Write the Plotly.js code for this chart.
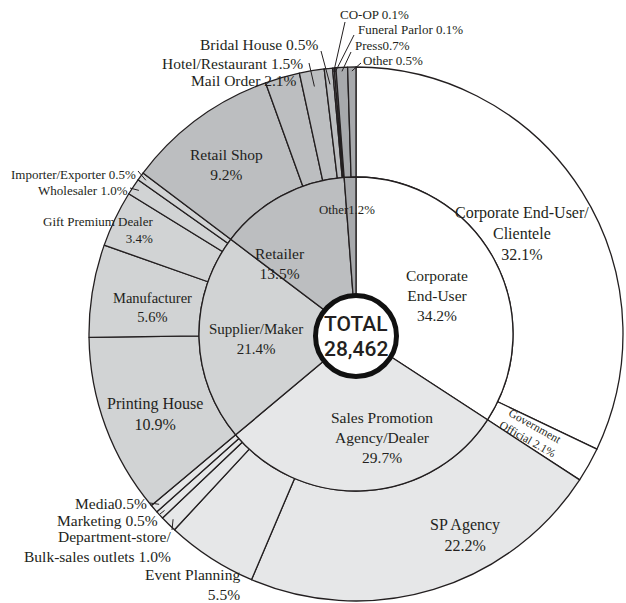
<!DOCTYPE html>
<html><head><meta charset="utf-8">
<script src="https://cdn.plot.ly/plotly-3.0.1.min.js"></script>
<style>html,body{margin:0;padding:0;background:#fff;overflow:hidden}#chart{width:626px;height:603px}</style>
</head><body><div id="chart"></div>
<script>
// ---------- data ----------
const innerLabels = ['Corporate End-User','Sales Promotion Agency/Dealer','Supplier/Maker','Retailer','Other'];
const innerValues = [34.2, 29.7, 21.4, 13.5, 1.2];
const outerLabels = ['Corporate End-User/Clientele','Government Official','SP Agency','Event Planning',
  'Department-store/Bulk-sales outlets','Marketing','Media','Printing House','Manufacturer',
  'Gift Premium Dealer','Wholesaler','Importer/Exporter','Retail Shop','Mail Order',
  'Hotel/Restaurant','Bridal House','CO-OP','Funeral Parlor','Press','Other'];
const outerValues = [32.1, 2.1, 22.2, 5.5, 1.0, 0.5, 0.5, 10.9, 5.6, 3.4, 1.0, 0.5, 9.2, 2.1, 1.5, 0.5, 0.1, 0.1, 0.7, 0.5];
const outerParents = [0, 0, 1, 1, 1, 1, 1, 2, 2, 2, 2, 2, 3, 3, 3, 3, 3, 3, 4, 4];
const totalTitle = 'TOTAL';
const totalCount = '28,462';

// ---------- style / layout ----------
const W = 626, H = 603;
const CX = 356, CY = 334, R = 267, RI = 157, RC = 40.5;
const groupColors = ['#ffffff', '#e6e7e8', '#d1d3d4', '#bcbec0', '#a7a9ac'];
const lineColor = '#231f20';
const serif = 'Liberation Serif, Times New Roman, serif';

const px = x => x / W;
const py = y => 1 - y / H;
const pct = v => v.toFixed(1) + '%';

function midFrac(values, i) {
  const tot = values.reduce((a, b) => a + b, 0);
  let c = 0; for (let k = 0; k < i; k++) c += values[k];
  return (c + values[i] / 2) / tot;
}
function pointAt(f, r) {
  const t = 2 * Math.PI * f;
  return [CX + r * Math.sin(t), CY - r * Math.cos(t)];
}

const outerTrace = {
  type: 'pie', values: outerValues, labels: outerLabels, sort: false, direction: 'clockwise', rotation: 0,
  hole: RI / R, textinfo: 'none', hoverinfo: 'none', showlegend: false,
  marker: { colors: outerParents.map(p => groupColors[p]), line: { color: lineColor, width: 1.3 } },
  domain: { x: [px(CX - R), px(CX + R)], y: [(H - CY - R) / H, (H - CY + R) / H] }
};
const innerTrace = {
  type: 'pie', values: innerValues, labels: innerLabels, sort: false, direction: 'clockwise', rotation: 0,
  textinfo: 'none', hoverinfo: 'none', showlegend: false,
  marker: { colors: groupColors, line: { color: lineColor, width: 1.3 } },
  domain: { x: [px(CX - RI), px(CX + RI)], y: [(H - CY - RI) / H, (H - CY + RI) / H] }
};

// label specs: [ring, index, text prefix, x, y, xanchor, size]
const labelSpecs = [
  ['o', 0, 'Corporate End-User/<br>Clientele<br>', 522, 233, 'center', 16],
  ['i', 0, 'Corporate<br>End-User<br>', 437, 295, 'center', 15.5],
  ['i', 1, 'Sales Promotion<br>Agency/Dealer<br>', 382, 437, 'center', 15.5],
  ['o', 2, 'SP Agency<br>', 465, 535, 'center', 16],
  ['o', 3, 'Event Planning<br>', 242, 584, 'right', 15.5],
  ['o', 4, 'Department-store/<br>Bulk-sales outlets ', 174, 546, 'right', 15.5],
  ['o', 5, 'Marketing ', 160, 520, 'right', 15.5],
  ['o', 6, 'Media', 149, 503, 'right', 15.5],
  ['o', 7, 'Printing House<br>', 155, 414, 'center', 16],
  ['o', 8, 'Manufacturer<br>', 152, 307, 'center', 14.5],
  ['o', 9, 'Gift Premium Dealer<br>', 155, 230, 'right', 13],
  ['o', 10, 'Wholesaler ', 130, 190, 'right', 13],
  ['o', 11, 'Importer/Exporter ', 138, 174, 'right', 13],
  ['o', 12, 'Retail Shop<br>', 226, 164, 'center', 15.5],
  ['o', 13, 'Mail Order ', 244, 80, 'center', 15.5],
  ['o', 14, 'Hotel/Restaurant ', 305, 64, 'right', 15.5],
  ['o', 15, 'Bridal House ', 320, 45, 'right', 15.5],
  ['o', 16, 'CO-OP ', 338, 14, 'left', 13],
  ['o', 17, 'Funeral Parlor ', 356, 30, 'left', 13],
  ['o', 18, 'Press', 353, 46, 'left', 13],
  ['o', 19, 'Other ', 361, 61, 'left', 13],
  ['i', 3, 'Retailer<br>', 280, 263, 'center', 15.5],
  ['i', 4, 'Other', 347, 210, 'center', 12.8],
  ['i', 2, 'Supplier/Maker<br>', 256, 339, 'center', 15]
];

const annotations = labelSpecs.map(s => {
  const v = s[0] === 'o' ? outerValues[s[1]] : innerValues[s[1]];
  return {
    xref: 'paper', yref: 'paper', x: px(s[3]), y: py(s[4]), xanchor: s[5], yanchor: 'middle',
    align: s[5] === 'right' ? 'right' : (s[5] === 'left' ? 'left' : 'center'),
    text: s[2] + pct(v), showarrow: false,
    font: { family: serif, size: s[6], color: lineColor }
  };
});

// Government Official label: rotated along its slice
(function () {
  const f = midFrac(outerValues, 1);
  const p = pointAt(f, 201);
  annotations.push({
    xref: 'paper', yref: 'paper', x: px(p[0]), y: py(p[1]), xanchor: 'center', yanchor: 'middle',
    text: 'Government<br>Official ' + pct(outerValues[1]), showarrow: false, textangle: f * 360 - 90,
    font: { family: serif, size: 11.5, color: lineColor }
  });
})();

// centre text
const centreFont = { family: 'Roboto, Open Sans, sans-serif', size: 21, weight: 500, color: lineColor };
annotations.push({ xref: 'paper', yref: 'paper', x: px(CX), y: py(324), xanchor: 'center', yanchor: 'middle',
  text: totalTitle, showarrow: false, font: centreFont });
annotations.push({ xref: 'paper', yref: 'paper', x: px(CX), y: py(349), xanchor: 'center', yanchor: 'middle',
  text: totalCount, showarrow: false, font: centreFont });

// leader lines: [outer index, label-end x, y, radius factor]
const leaders = [
  [15, 321, 51, 0.94], [14, 309, 63, 0.94], [16, 345, 22, 0.985], [17, 354, 35, 0.985],
  [18, 351, 52, 0.985], [19, 361, 63, 0.985], [11, 138, 171, 0.975], [10, 130, 188, 0.975],
  [6, 150, 503, 0.975], [5, 160, 514, 0.975], [4, 172, 530, 0.975]
];
const shapes = leaders.map(l => {
  const p = pointAt(midFrac(outerValues, l[0]), R * l[3]);
  return { type: 'line', xref: 'paper', yref: 'paper', x0: px(l[1]), y0: py(l[2]), x1: px(p[0]), y1: py(p[1]),
    line: { color: lineColor, width: 1 } };
});
shapes.push({ type: 'circle', xref: 'paper', yref: 'paper',
  x0: px(CX - RC), x1: px(CX + RC), y0: py(336 + RC), y1: py(336 - RC),
  fillcolor: '#ffffff', line: { color: '#111111', width: 5 } });

Plotly.newPlot('chart', [outerTrace, innerTrace], {
  width: W, height: H, autosize: false,
  margin: { l: 0, r: 0, t: 0, b: 0, pad: 0 },
  paper_bgcolor: '#ffffff', plot_bgcolor: '#ffffff',
  annotations: annotations, shapes: shapes
}, { staticPlot: true, displayModeBar: false });
</script>
</body></html>
